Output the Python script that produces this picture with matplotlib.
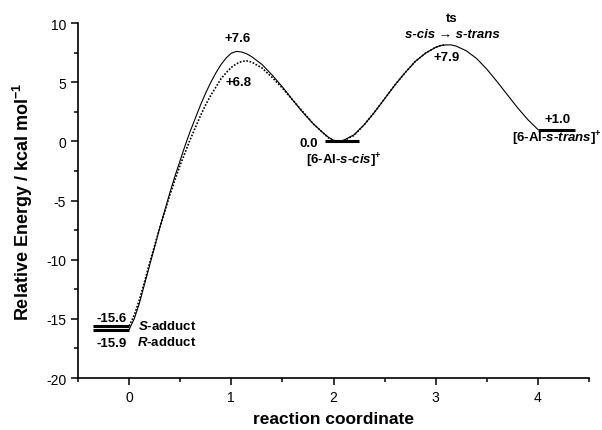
"""Energy profile for s-cis / s-trans interconversion along the reaction coordinate
"""

import matplotlib
matplotlib.use('Agg')
import matplotlib.pyplot as plt

plt.rcParams['font.family'] = ['Liberation Sans', 'DejaVu Sans']
plt.rcParams['mathtext.fontset'] = 'custom'
plt.rcParams['mathtext.rm'] = 'Liberation Sans:bold'
plt.rcParams['mathtext.it'] = 'Liberation Sans:italic:bold'
plt.rcParams['mathtext.bf'] = 'Liberation Sans:bold'
plt.rcParams['axes.unicode_minus'] = False

# solid curve (S-adduct pathway)
x_solid = [0.0, 0.05, 0.1, 0.15, 0.2, 0.25, 0.3, 0.35, 0.4, 0.45, 0.5, 0.55,
           0.6, 0.65, 0.7, 0.75, 0.8, 0.85, 0.9, 0.95, 1.0, 1.05, 1.1, 1.15,
           1.2, 1.3, 1.4, 1.5, 1.6, 1.7, 1.8, 1.9, 1.95, 2.0, 2.05, 2.1, 2.2,
           2.3, 2.4, 2.5, 2.6, 2.7, 2.8, 2.9, 3.0, 3.05, 3.1, 3.15, 3.2, 3.3,
           3.4, 3.5, 3.6, 3.7, 3.8, 3.9, 4.0]
e_solid = [-15.9, -15.0, -13.7, -12.1, -10.5, -8.9, -7.3, -5.8, -4.3, -2.9,
           -1.6, -0.3, 0.9, 2.0, 3.1, 4.1, 5.0, 5.8, 6.5, 7.05, 7.45, 7.6,
           7.55, 7.4, 7.15, 6.5, 5.6, 4.6, 3.5, 2.45, 1.5, 0.7, 0.35, 0.1,
           0.0, 0.1, 0.55, 1.4, 2.45, 3.6, 4.75, 5.8, 6.75, 7.45, 7.95, 8.1,
           8.15, 8.15, 8.05, 7.65, 7.0, 6.1, 5.05, 3.95, 2.85, 1.85, 1.0]

# dotted curve (R-adduct pathway)
x_dot = [0.0, 0.05, 0.1, 0.15, 0.2, 0.25, 0.3, 0.35, 0.4, 0.45, 0.5, 0.55,
         0.6, 0.65, 0.7, 0.75, 0.8, 0.85, 0.9, 0.95, 1.0, 1.05, 1.1, 1.15,
         1.2, 1.3, 1.4, 1.5, 1.6, 1.7, 1.8, 1.9, 1.95, 2.0, 2.05, 2.1, 2.2,
         2.3, 2.4, 2.5, 2.6, 2.7, 2.8, 2.9, 3.0, 3.05, 3.1]
e_dot = [-15.6, -14.7, -13.4, -11.9, -10.3, -8.8, -7.3, -5.9, -4.5, -3.2,
         -2.0, -0.9, 0.2, 1.2, 2.2, 3.1, 3.9, 4.6, 5.3, 5.8, 6.25, 6.55, 6.75,
         6.8, 6.7, 6.2, 5.4, 4.5, 3.5, 2.5, 1.5, 0.7, 0.3, 0.05, -0.05, 0.05,
         0.5, 1.4, 2.45, 3.6, 4.75, 5.8, 6.75, 7.45, 7.95, 8.1, 8.15]

# stationary points: S-adduct, R-adduct, s-cis, s-trans
level_e = [-15.6, -15.9, 0.0, 1.0]
level_x0 = [-0.35, -0.35, 1.92, 4.0]
level_x1 = [0.0, 0.0, 2.25, 4.36]

fig = plt.figure(figsize=(6.02, 4.31), dpi=100)
ax = fig.add_axes([0.1296, 0.1206, 0.8488, 0.8237])

ax.plot(x_solid, e_solid, color='black', lw=0.8)
ax.plot(x_dot, e_dot, color='black', lw=1.2, ls=(0, (1, 1)))
for e, a, b in zip(level_e, level_x0, level_x1):
    ax.plot([a, b], [e, e], color='black', lw=2.2, solid_capstyle='butt')

fs = 9.5
bold = dict(fontsize=fs, fontweight='bold', ha='center', va='center')
ax.text(1.06, 8.7, '+7.6', **bold)
ax.text(1.07, 5.0, '+6.8', **bold)
ax.text(1.85, -0.1, '0.0', **dict(bold, ha='right'))
ax.text(2.1, -1.6, r'[6-Al-$\mathit{s}$-$\mathit{cis}$]$^{+}$', **bold)
ax.text(3.16, 10.45, 'ts', clip_on=False, **bold)
ax.text(3.16, 9.1, 's-cis \u2192 s-trans', fontstyle='italic', **bold)
ax.text(3.11, 7.15, '+7.9', **bold)
ax.text(4.19, 1.85, '+1.0', **bold)
ax.text(4.18, 0.3, r'[6-Al-$\mathit{s}$-$\mathit{trans}$]$^{+}$', **bold)
ax.text(-0.17, -14.9, '-15.6', **bold)
ax.text(-0.17, -17.0, '-15.9', **bold)
ax.text(0.09, -15.6, r'$\mathit{S}$-adduct', **dict(bold, ha='left'))
ax.text(0.08, -16.9, r'$\mathit{R}$-adduct', **dict(bold, ha='left'))

ax.set_xlim(-0.5, 4.5)
ax.set_ylim(-20, 10)
ax.set_xticks([0, 1, 2, 3, 4])
ax.set_xticks([-0.5, 0.5, 1.5, 2.5, 3.5, 4.5], minor=True)
ax.set_yticks([-20, -15, -10, -5, 0, 5, 10])
ax.set_yticks([-17.5, -12.5, -7.5, -2.5, 2.5, 7.5], minor=True)
ax.tick_params(which='major', direction='out', length=5, width=1.1, labelsize=10)
ax.tick_params(which='minor', direction='out', length=3, width=1.1)
for side in ['top', 'right']:
    ax.spines[side].set_visible(False)
for side in ['left', 'bottom']:
    ax.spines[side].set_linewidth(1.2)

ax.set_xlabel('reaction coordinate', fontsize=12.5, fontweight='bold', labelpad=5)
ax.set_ylabel(r'Relative Energy / kcal mol$^{-1}$', fontsize=13, fontweight='bold', labelpad=8)

fig.savefig('out.png', dpi=100)
